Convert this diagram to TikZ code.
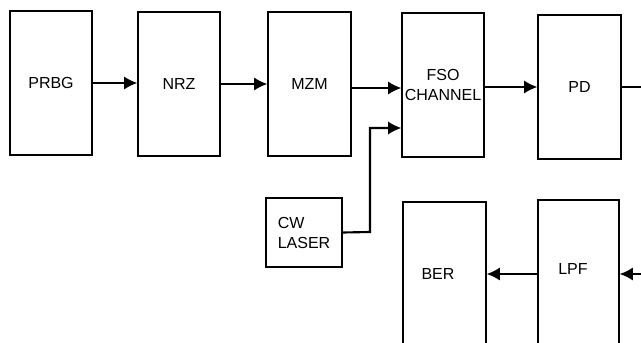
\documentclass[tikz,border=0pt]{standalone}
\usepackage{fontspec}
\setmainfont{Liberation Sans}
\usetikzlibrary{arrows.meta}
\tikzset{
  blk/.style={draw,line width=0.9pt,minimum width=61.5pt,minimum height=108pt,
    inner sep=0pt,font=\fontsize{12}{15}\selectfont,align=center},
  link/.style={line width=1.6pt,-{Latex[length=10pt,width=10pt]}},
}
\begin{document}
\begin{tikzpicture}[x=0.75pt,y=-0.75pt]
 \useasboundingbox (0,0) rectangle (641,342);
 \clip (0,0) rectangle (641,342);
 % transmitter row
 \node[blk] (PRBG) at (51,83) {PRBG};
 \node[blk] (NRZ) at (179,84) {NRZ};
 \node[blk,minimum width=62.25pt] (MZM) at (309.5,84) {MZM};
 \node[blk] (FSO) at (443,85) {FSO\\CHANNEL};
 \node[blk,minimum width=62.25pt] (PD) at (579.5,87) {PD};
 \node[draw,line width=0.9pt,minimum width=57pt,minimum height=51.75pt,inner sep=0pt,
   font=\fontsize{12}{15}\selectfont,align=left] (laser) at (304,232.5) {CW\\LASER};
 % receiver row
 \node[blk,minimum width=62.25pt] (BER) at (444.5,274) {};
 \node at (438,274) {\fontsize{12}{15}\selectfont BER};
 \node[blk,minimum width=60.75pt] (LPF) at (578.5,272) {};
 \node at (573,269) {\fontsize{12}{15}\selectfont LPF};
 \coordinate (outR) at (641,87);
 \coordinate (inR) at (641,274);
 \coordinate (knee) at (370,232);
 % links
 \draw[link] (PRBG.east) -- (PRBG.east -| NRZ.west);
 \draw[link] (NRZ.east) -- (NRZ.east -| MZM.west);
 \draw[link] ([yshift=-3pt]MZM.east) -- ([yshift=-3pt]MZM.east -| FSO.west);
 \draw[link] (FSO.east |- PD.west) -- (PD.west);
 \draw[line width=1.6pt] (PD.east) -- (outR);
 \draw[link] (laser.east) -- (knee) |- ([yshift=-32.25pt]FSO.west);
 \draw[link] (inR) -- (inR -| LPF.east);
 \draw[link] (LPF.west |- inR) -- (BER.east |- inR);
\end{tikzpicture}
\end{document}
